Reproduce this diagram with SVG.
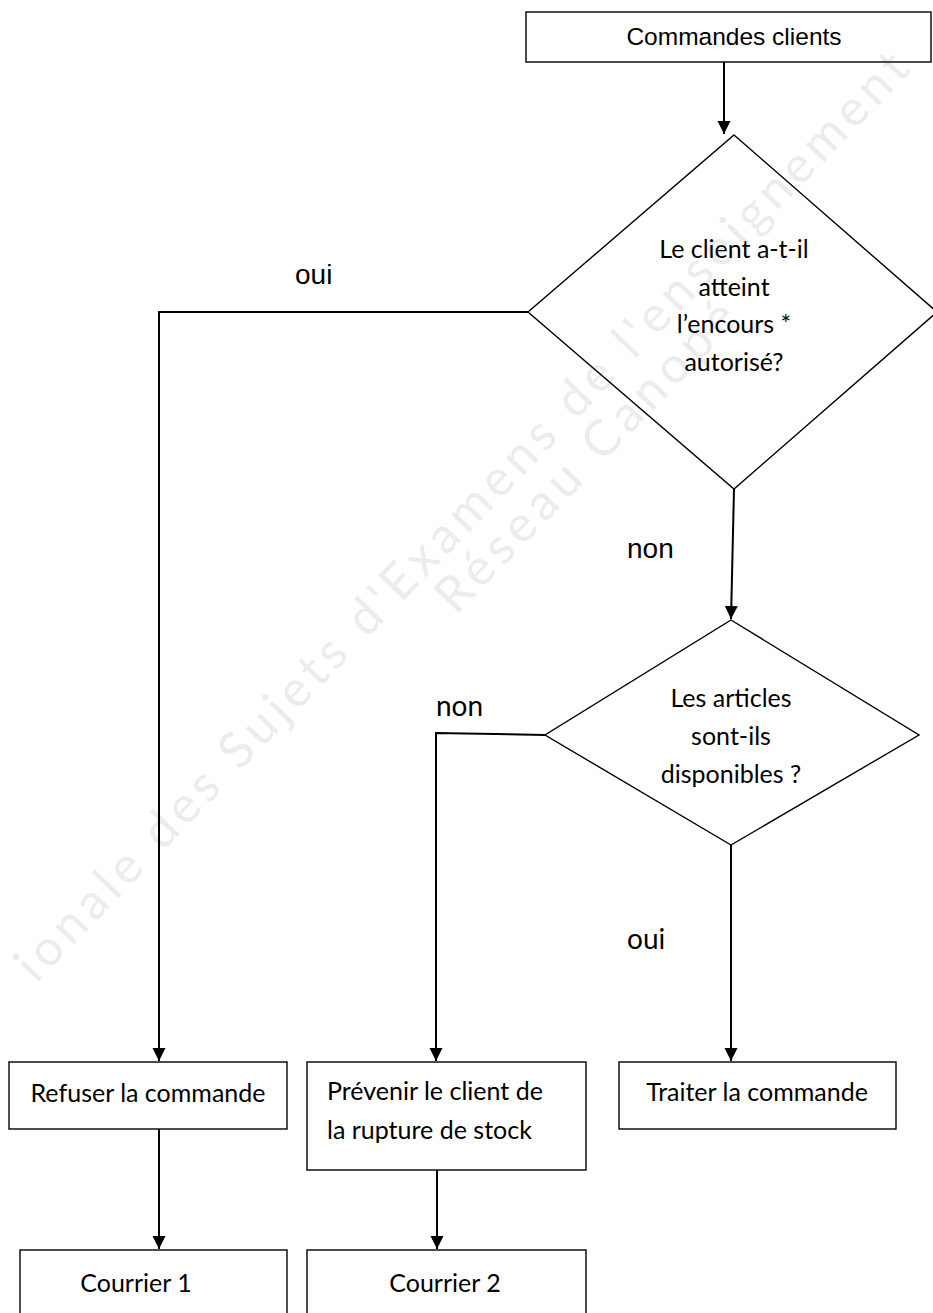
<svg xmlns="http://www.w3.org/2000/svg" width="933" height="1313" viewBox="0 0 933 1313">
<defs>
<marker id="arr" markerUnits="userSpaceOnUse" markerWidth="14" markerHeight="14" refX="13" refY="6.5" orient="auto">
<path d="M0,0 L13,6.5 L0,13 z" fill="#000"/>
</marker>
<style>
.shape{fill:none;stroke:#000;stroke-width:1.4}
.conn{fill:none;stroke:#000;stroke-width:2}
.t{font-family:Lato,"Open Sans","DejaVu Sans",sans-serif;font-size:25px;fill:#000}
.c{text-anchor:middle}
.a{font-family:"Liberation Sans",Arial,sans-serif;fill:#000}
.wm{font-family:Lato,"DejaVu Sans",sans-serif;font-size:50px;fill:#ececec}
</style>
</defs>
<rect width="933" height="1313" fill="#fff"/>
<g id="watermark">
<text class="wm" transform="translate(36,984) rotate(-46.2)" textLength="1265">ionale des Sujets d'Examens de l'enseignement</text>
<text class="wm" transform="translate(598,468) rotate(-46.2)" text-anchor="middle" textLength="410">Réseau Canopé</text>
</g>
<g id="connectors">
<path class="conn" d="M724,62 L724,134" marker-end="url(#arr)"/>
<path class="conn" d="M528,312 L159,312 L159,1061" marker-end="url(#arr)"/>
<path class="conn" d="M734,489 L731,619" marker-end="url(#arr)"/>
<path class="conn" d="M545,735 L436,733 L436,1061" marker-end="url(#arr)"/>
<path class="conn" d="M731,845 L731,1061" marker-end="url(#arr)"/>
<path class="conn" d="M159,1129 L159,1249" marker-end="url(#arr)"/>
<path class="conn" d="M437,1170 L437,1249" marker-end="url(#arr)"/>
</g>
<g id="labels">
<text class="a" x="295" y="284" font-size="28">oui</text>
<text class="a" x="627" y="558" font-size="28">non</text>
<text class="t" x="436" y="716" style="font-size:28px">non</text>
<text class="t" x="627" y="949" style="font-size:28px">oui</text>
</g>
<g id="n-commandes">
<rect class="shape" x="526" y="12" width="405" height="50"/>
<text class="a c" x="734" y="45" font-size="24.5">Commandes clients</text>
</g>
<g id="d-encours">
<polygon class="shape" points="734,135 937,312 734,489 528,312"/>
<text class="t c" x="734" y="258">Le client a-t-il</text>
<text class="t c" x="734" y="296">atteint</text>
<text class="t c" x="734" y="333">l’encours *</text>
<text class="t c" x="734" y="371">autorisé?</text>
</g>
<g id="d-articles">
<polygon class="shape" points="731,620 919,735 731,845 545,735"/>
<text class="t c" x="731" y="707">Les articles</text>
<text class="t c" x="731" y="745">sont-ils</text>
<text class="t c" x="731" y="783">disponibles ?</text>
</g>
<g id="n-refuser">
<rect class="shape" x="9" y="1062" width="278" height="67"/>
<text class="t c" x="148" y="1102">Refuser la commande</text>
</g>
<g id="n-prevenir">
<rect class="shape" x="307" y="1062" width="279" height="108"/>
<text class="t" x="327" y="1100">Prévenir le client de</text>
<text class="t" x="327" y="1139">la rupture de stock</text>
</g>
<g id="n-traiter">
<rect class="shape" x="619" y="1062" width="277" height="67"/>
<text class="t c" x="757" y="1101">Traiter la commande</text>
</g>
<g id="n-courrier1">
<rect class="shape" x="20" y="1250" width="267" height="80"/>
<text class="t c" x="136" y="1292">Courrier 1</text>
</g>
<g id="n-courrier2">
<rect class="shape" x="307" y="1250" width="279" height="80"/>
<text class="t c" x="445" y="1292">Courrier 2</text>
</g>
</svg>
